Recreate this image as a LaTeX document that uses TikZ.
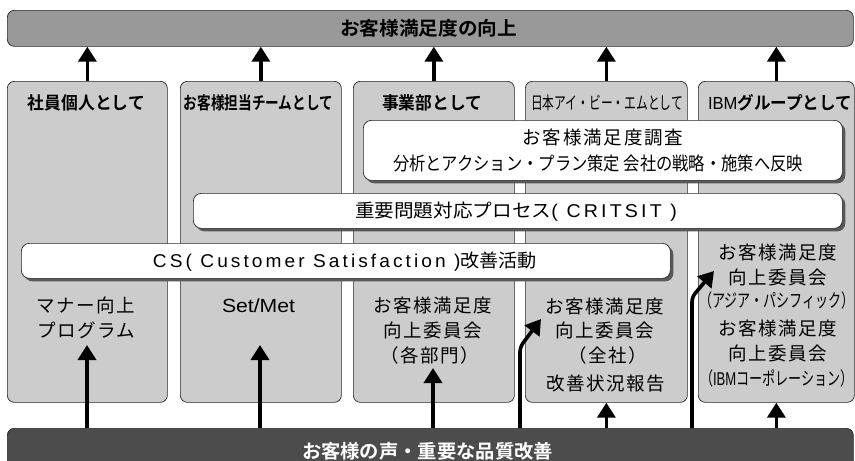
\documentclass[tikz,border=0pt]{standalone}
\usepackage{fontspec}
\usepackage{graphicx}
\setmainfont{Noto Sans CJK JP}
\newfontfamily\arial{Liberation Sans}
\newfontfamily\arialsp[LetterSpace=16]{Liberation Sans}
\newfontfamily\jsp[LetterSpace=8]{Noto Sans CJK JP}
\newfontfamily\jspten[LetterSpace=10]{Noto Sans CJK JP}
\newfontfamily\jb{Noto Sans CJK JP Bold}
\newcommand{\hfitto}[2]{\resizebox{#1}{\height}{#2}}
\newcommand{\fsz}[1]{\fontsize{#1pt}{#1pt}\selectfont}
\usetikzlibrary{arrows.meta,shadows}
\tikzset{
  colbox/.style={draw=black!85, fill=black!20, rounded corners=7pt, line width=0.7pt, inner sep=0pt, anchor=north west},
  bar/.style={draw=black!85, rounded corners=7pt, line width=0.7pt, inner sep=0pt, anchor=north west},
  wbox/.style={draw=black!85, fill=white, rounded corners=8pt, line width=0.7pt, inner sep=0pt, anchor=north west,
    drop shadow={shadow xshift=3pt, shadow yshift=-3pt, fill=black!65, opacity=1}},
  arr/.style={line width=3.6pt, -{Triangle[width=18pt,length=15pt]}},
  txt/.style={inner sep=0pt, text height=16pt, text depth=2pt},
  body/.style={txt, font=\jsp\fsz{18.5}},
}
\begin{document}
\begin{tikzpicture}[x=1pt,y=-1pt]
\useasboundingbox (0,0) rectangle (855,461);
\clip (0,0) rectangle (855,461);
% bars
\node[bar, fill=black!40, minimum width=846pt, minimum height=36pt] (top) at (7,10) {};
\node[txt] (toptxt) at (428.5,28.5) {\jb\fsz{19}\hfitto{177pt}{お客様満足度の向上}};
\node[bar, fill=black!70, minimum width=846pt, minimum height=46pt] (bot) at (7,428) {};
\node[txt, text=white] (bottxt) at (427.5,451) {\jb\fsz{19}\hfitto{251pt}{お客様の声・重要な品質改善}};
% columns
\node[colbox, minimum width=160pt, minimum height=321pt] (c1) at (7,81) {};
\node[colbox, minimum width=161pt, minimum height=321pt] (c2) at (180,81) {};
\node[colbox, minimum width=161pt, minimum height=321pt] (c3) at (353,81) {};
\node[colbox, minimum width=162pt, minimum height=321pt] (c4) at (525,81) {};
\node[colbox, minimum width=156pt, minimum height=321pt] (c5) at (698,81) {};
% headers
\node[txt] (h1) at (86.5,102) {\jb\fsz{17.5}\hfitto{117pt}{社員個人として}};
\node[txt] (h2) at (258.5,102) {\jb\fsz{17.5}\hfitto{149pt}{お客様担当チームとして}};
\node[txt] (h3) at (432,102) {\jb\fsz{17.5}\hfitto{100pt}{事業部として}};
\node[txt] (h4) at (607,102) {\fsz{17.5}\hfitto{152pt}{日本アイ・ビー・エムとして}};
\node[txt] (h5) at (780,102) {\fsz{17.5}\hfitto{144pt}{{\arial IBM}{\jb グループとして}}};
% white boxes
\node[wbox, minimum width=479pt, minimum height=60pt] (survey) at (363,120) {};
\node[txt] (s1) at (603,137) {\jspten\fsz{18.5}お客様満足度調査};
\node[txt] (s2) at (598,163) {\fsz{18.5}\hfitto{410pt}{分析とアクション・プラン策定 会社の戦略・施策へ反映}};
\node[wbox, minimum width=649pt, minimum height=35pt] (crit) at (193,193) {};
\node[txt] (crittxt) at (516,210) {\fsz{18.5}\hfitto{322pt}{重要問題対応プロセス{\arialsp ( CRITSIT )}}};
\node[wbox, minimum width=649pt, minimum height=35pt] (cs) at (21,243) {};
\node[txt] (cstxt) at (345,260) {\fsz{18.5}\hfitto{384pt}{{\arialsp CS( Customer Satisfaction )}改善活動}};
% column texts
\begin{scope}[every node/.append style={body}]
\node (a1) at (86,305) {マナー向上};
\node (a2) at (86,330) {プログラム};
\node[font=\arial\fsz{19}] (b1) at (258.5,305) {\hfitto{73pt}{Set/Met}};
\node (d1) at (433,305) {お客様満足度};
\node (d2) at (433,330) {向上委員会};
\node (d3) at (430,355) {（各部門）};
\node (e1) at (605,306) {お客様満足度};
\node (e2) at (605,330) {向上委員会};
\node (e3) at (608,355) {（全社）};
\node (e4) at (606,383) {改善状況報告};
\node (f1) at (778,252) {お客様満足度};
\node (f2) at (778,277) {向上委員会};
\node[font=\fsz{18.5}] (f3) at (777,300) {\hfitto{156pt}{（アジア・パシフィック）}};
\node (f4) at (778,328) {お客様満足度};
\node (f5) at (778,353) {向上委員会};
\node[font=\fsz{18.5}] (f6) at (777,378) {\hfitto{154pt}{（{\arial IBM}コーポレーション）}};
\end{scope}
% arrows to top
\foreach \c in {c1,c2,c3,c4,c5} \draw[arr] (\c.north) -- (\c.north |- top.south);
% arrows from bottom
\coordinate (t1) at (87,345);
\coordinate (t2) at (260,345);
\coordinate (t3) at (433,368);
\coordinate (k1) at (520,347);
\coordinate (t4) at (541,319);
\coordinate (k2) at (692,297);
\coordinate (t5) at (714,271);
\draw[arr] (bot.north -| t1) -- (t1);
\draw[arr] (bot.north -| t2) -- (t2);
\draw[arr] (bot.north -| t3) -- (t3);
\draw[arr] (bot.north -| c4.south) -- (c4.south);
\draw[arr] (bot.north -| c5.south) -- (c5.south);
\draw[arr, rounded corners=5pt] (bot.north -| k1) -- (k1) -- (t4);
\draw[arr, rounded corners=5pt] (bot.north -| k2) -- (k2) -- (t5);
\end{tikzpicture}
\end{document}
